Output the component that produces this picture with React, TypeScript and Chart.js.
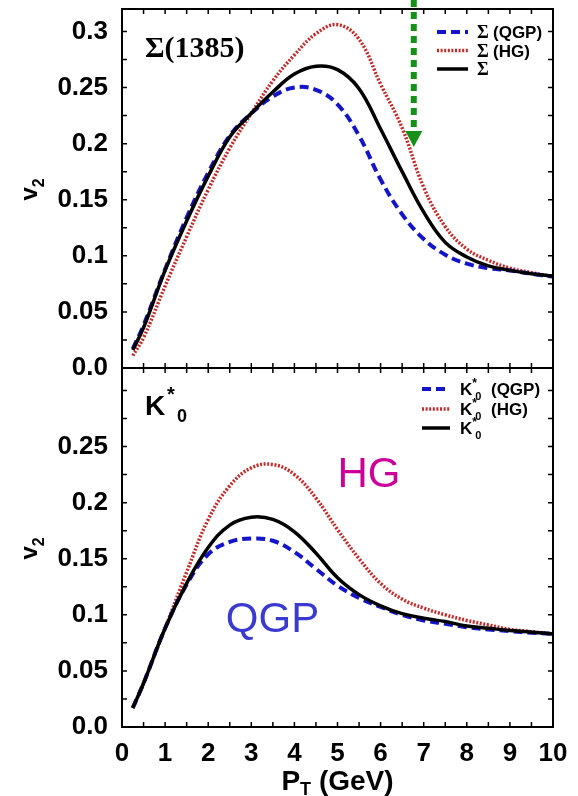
import React, { useEffect, useRef } from "react";
import { Chart, registerables } from "chart.js";

Chart.register(...registerables);

// ---------------- data ----------------
const pT = [0.25, 0.5, 1, 1.5, 2, 2.5, 3, 3.5, 4, 4.5, 5, 5.5, 6, 6.5, 7, 7.5, 8, 8.5, 9, 9.5, 10];

const sigmaQGP = [0.017, 0.038, 0.088, 0.134, 0.174, 0.207, 0.227, 0.242, 0.25, 0.248, 0.235, 0.207, 0.168, 0.137, 0.115, 0.101, 0.093, 0.089, 0.087, 0.084, 0.0815];
const sigmaHG = [0.011, 0.027, 0.073, 0.117, 0.159, 0.196, 0.227, 0.256, 0.279, 0.298, 0.306, 0.293, 0.253, 0.214, 0.161, 0.126, 0.106, 0.096, 0.089, 0.085, 0.0815];
const sigmaAll = [0.016, 0.036, 0.087, 0.131, 0.171, 0.206, 0.227, 0.246, 0.262, 0.269, 0.266, 0.249, 0.213, 0.175, 0.139, 0.112, 0.099, 0.091, 0.087, 0.084, 0.082];

const kQGP = [0.017, 0.039, 0.088, 0.127, 0.154, 0.165, 0.168, 0.166, 0.156, 0.141, 0.126, 0.115, 0.107, 0.1, 0.095, 0.092, 0.089, 0.087, 0.0855, 0.084, 0.083];
const kHG = [0.017, 0.039, 0.088, 0.138, 0.185, 0.215, 0.231, 0.234, 0.225, 0.204, 0.176, 0.15, 0.128, 0.114, 0.106, 0.1, 0.095, 0.091, 0.087, 0.085, 0.083];
const kAll = [0.017, 0.039, 0.088, 0.128, 0.16, 0.18, 0.187, 0.185, 0.174, 0.155, 0.133, 0.118, 0.108, 0.101, 0.097, 0.094, 0.09, 0.088, 0.086, 0.0845, 0.083];

const xTickValues = [0, 1, 2, 3, 4, 5, 6, 7, 8, 9, 10];
const yTicksTop = [0, 0.05, 0.1, 0.15, 0.2, 0.25, 0.3];
const yTicksBottom = [0, 0.05, 0.1, 0.15, 0.2, 0.25];

// annotations (data coordinates)
const arrowX = 6.77;
const arrowTipV2 = 0.197;
const hgLabel = { text: "HG", x: 5.0, y: 0.214 };
const qgpLabel = { text: "QGP", x: 2.41, y: 0.085 };

// ---------------- styles ----------------
const SANS = '"Liberation Sans", Arial, Helvetica, sans-serif';
const SERIF = '"Liberation Serif", "Times New Roman", serif';
const BLUE = "#1414c8";
const RED = "#c42a2a";
const BLACK = "#000000";
const BLUE_DASH = [9, 5];
const RED_DASH = [2, 1.6];

function lineDs(label: string, ys: number[], color: string, dash: number[], width: number) {
  return {
    label,
    data: pT.map((x, i) => ({ x, y: ys[i] })),
    borderColor: color,
    backgroundColor: color,
    borderDash: dash,
    borderWidth: width,
    borderCapStyle: "butt",
    pointRadius: 0,
    tension: 0.4,
    fill: false,
  };
}

const fmtY = (v: number) => (v === 0 ? "0.0" : String(parseFloat(v.toFixed(3))));

function drawFrame(ctx: CanvasRenderingContext2D, a: any, xs: any, ys: any) {
  ctx.save();
  ctx.strokeStyle = "#000";
  ctx.lineWidth = 1.5;
  ctx.beginPath();
  for (let i = 0; i <= 20; i++) {
    const px = xs.getPixelForValue(i * 0.5);
    ctx.moveTo(px, a.top);
    ctx.lineTo(px, a.top + 5);
    ctx.moveTo(px, a.bottom);
    ctx.lineTo(px, a.bottom - 5);
  }
  for (let i = 0; i <= 12; i++) {
    const py = ys.getPixelForValue(i * 0.025);
    ctx.moveTo(a.left, py);
    ctx.lineTo(a.left + 5, py);
    ctx.moveTo(a.right, py);
    ctx.lineTo(a.right - 5, py);
  }
  ctx.stroke();
  ctx.lineWidth = 2;
  ctx.strokeRect(a.left, a.top, a.right - a.left, a.bottom - a.top);
  ctx.restore();
}

function drawYTitle(ctx: CanvasRenderingContext2D, a: any) {
  const cy = (a.top + a.bottom) / 2;
  ctx.save();
  ctx.translate(37, cy);
  ctx.rotate(-Math.PI / 2);
  ctx.fillStyle = "#000";
  ctx.textAlign = "left";
  ctx.textBaseline = "alphabetic";
  ctx.font = `bold 24px ${SANS}`;
  const start = -12;
  ctx.fillText("v", start, 0);
  const w = ctx.measureText("v").width;
  ctx.font = `bold 16px ${SANS}`;
  ctx.fillText("2", start + w, 7);
  ctx.restore();
}

function legendSample(ctx: CanvasRenderingContext2D, x1: number, x2: number, y: number, color: string, dash: number[], width: number) {
  ctx.save();
  ctx.strokeStyle = color;
  ctx.lineWidth = width;
  ctx.setLineDash(dash);
  ctx.lineCap = "butt";
  ctx.beginPath();
  ctx.moveTo(x1, y);
  ctx.lineTo(x2, y);
  ctx.stroke();
  ctx.restore();
}

const topDecor = {
  id: "topDecor",
  afterDraw(chart: any) {
    const { ctx, chartArea: a, scales } = chart;
    const xs = scales.x;
    const ys = scales.y;
    drawFrame(ctx, a, xs, ys);
    drawYTitle(ctx, a);

    ctx.save();
    ctx.fillStyle = "#000";
    ctx.textAlign = "left";
    ctx.textBaseline = "alphabetic";
    ctx.font = `bold 30px ${SERIF}`;
    ctx.fillText("Σ(1385)", 145, 57);

    // legend
    const rows = [
      { y: 32, color: BLUE, dash: BLUE_DASH, w: 4, label: "(QGP)" },
      { y: 50.5, color: RED, dash: RED_DASH, w: 3.5, label: "(HG)" },
      { y: 69, color: BLACK, dash: [], w: 3.5, label: "" },
    ];
    rows.forEach((r) => {
      legendSample(ctx, 437, 468, r.y, r.color, r.dash, r.w);
      ctx.fillStyle = "#000";
      ctx.font = `bold 18px ${SERIF}`;
      ctx.fillText("Σ", 477, r.y + 6);
      if (r.label) {
        ctx.font = `bold 17px ${SANS}`;
        ctx.fillText(r.label, 493, r.y + 6);
      }
    });

    // green arrow
    const ax = xs.getPixelForValue(arrowX);
    const tip = ys.getPixelForValue(arrowTipV2);
    const headH = 16;
    ctx.strokeStyle = "#17901a";
    ctx.fillStyle = "#17901a";
    ctx.lineWidth = 6;
    ctx.setLineDash([7, 5]);
    ctx.beginPath();
    ctx.moveTo(ax, 0);
    ctx.lineTo(ax, tip - headH);
    ctx.stroke();
    ctx.setLineDash([]);
    ctx.beginPath();
    ctx.moveTo(ax - 8.5, tip - headH);
    ctx.lineTo(ax + 8.5, tip - headH);
    ctx.lineTo(ax, tip);
    ctx.closePath();
    ctx.fill();
    ctx.restore();
  },
};

function drawKLabel(ctx: CanvasRenderingContext2D, x: number, base: number, big: number, suffix: string) {
  // K with superscript * and subscript 0
  ctx.font = `bold ${big}px ${SANS}`;
  ctx.fillText("K", x, base);
  const kw = ctx.measureText("K").width;
  ctx.font = `bold ${Math.round(big * 0.7)}px ${SANS}`;
  ctx.fillText("*", x + kw, base - big * 0.45);
  ctx.font = `bold ${Math.round(big * 0.65)}px ${SANS}`;
  ctx.fillText("0", x + kw + big * 0.18, base + big * 0.27);
  if (suffix) {
    ctx.font = `bold ${big}px ${SANS}`;
    ctx.fillText(suffix, x + kw + big * 1.1, base);
  }
}

const bottomDecor = {
  id: "bottomDecor",
  afterDraw(chart: any) {
    const { ctx, chartArea: a, scales } = chart;
    const xs = scales.x;
    const ys = scales.y;
    drawFrame(ctx, a, xs, ys);
    drawYTitle(ctx, a);

    ctx.save();
    ctx.fillStyle = "#000";
    ctx.textAlign = "left";
    ctx.textBaseline = "alphabetic";

    // panel label K*0
    ctx.font = `bold 28px ${SANS}`;
    ctx.fillText("K", 145, 55);
    ctx.font = `bold 20px ${SANS}`;
    ctx.fillText("*", 167, 41);
    ctx.font = `bold 18px ${SANS}`;
    ctx.fillText("0", 177, 62);

    // legend
    const rows = [
      { y: 29, color: BLUE, dash: BLUE_DASH, w: 4, label: "(QGP)" },
      { y: 49, color: RED, dash: RED_DASH, w: 3.5, label: "(HG)" },
      { y: 68, color: BLACK, dash: [], w: 3.5, label: "" },
    ];
    rows.forEach((r) => {
      legendSample(ctx, 422, 450, r.y, r.color, r.dash, r.w);
      ctx.fillStyle = "#000";
      drawKLabel(ctx, 460, r.y + 6, 17, r.label);
    });

    // HG / QGP annotations
    ctx.font = `42px ${SANS}`;
    ctx.fillStyle = "#cc0099";
    ctx.fillText(hgLabel.text, xs.getPixelForValue(hgLabel.x), ys.getPixelForValue(hgLabel.y));
    ctx.fillStyle = "#3a3ad0";
    ctx.fillText(qgpLabel.text, xs.getPixelForValue(qgpLabel.x), ys.getPixelForValue(qgpLabel.y));

    // x title P_T (GeV)
    ctx.fillStyle = "#000";
    const base = 430;
    ctx.font = `bold 28px ${SANS}`;
    const wP = ctx.measureText("P").width;
    const wRest = ctx.measureText(" (GeV)").width;
    ctx.font = `bold 18px ${SANS}`;
    const wT = ctx.measureText("T").width;
    const total = wP + wT + wRest;
    const x0 = (a.left + a.right) / 2 - total / 2;
    ctx.font = `bold 28px ${SANS}`;
    ctx.fillText("P", x0, base);
    ctx.font = `bold 18px ${SANS}`;
    ctx.fillText("T", x0 + wP, base + 5);
    ctx.font = `bold 28px ${SANS}`;
    ctx.fillText(" (GeV)", x0 + wP + wT, base);
    ctx.restore();
  },
};

function yScale(ticksList: number[]) {
  return {
    type: "linear",
    min: 0,
    max: 0.32,
    afterBuildTicks: (s: any) => {
      s.ticks = ticksList.map((v) => ({ value: v }));
    },
    afterFit: (s: any) => {
      s.width = 122;
      s.paddingTop = 0;
      s.paddingBottom = 0;
    },
    ticks: {
      callback: (v: number) => fmtY(v),
      color: "#000",
      padding: 14,
      font: { family: SANS, size: 26, weight: "bold" },
    },
    grid: { display: false, drawTicks: false },
    border: { display: false },
  };
}

function xScale(show: boolean) {
  return {
    type: "linear",
    min: 0,
    max: 10,
    display: show,
    afterBuildTicks: (s: any) => {
      s.ticks = xTickValues.map((v) => ({ value: v }));
    },
    afterFit: (s: any) => {
      if (show) s.height = 69;
      s.paddingLeft = 0;
      s.paddingRight = 0;
    },
    ticks: {
      autoSkip: false,
      maxRotation: 0,
      color: "#000",
      padding: 11,
      font: { family: SANS, size: 26, weight: "bold" },
    },
    grid: { display: false, drawTicks: false },
    border: { display: false },
  };
}

export default function App() {
  const topRef = useRef<HTMLCanvasElement>(null);
  const botRef = useRef<HTMLCanvasElement>(null);

  useEffect(() => {
    const common = {
      responsive: false,
      animation: false,
      plugins: { legend: { display: false }, tooltip: { enabled: false } },
    };
    const c1 = new Chart(topRef.current as HTMLCanvasElement, {
      type: "line",
      data: {
        datasets: [
          lineDs("Σ", sigmaAll, BLACK, [], 3.5),
          lineDs("Σ (QGP)", sigmaQGP, BLUE, BLUE_DASH, 4),
          lineDs("Σ (HG)", sigmaHG, RED, RED_DASH, 3.5),
        ] as any,
      },
      options: {
        ...common,
        layout: { padding: { top: 9, right: 25, bottom: 22, left: 0 } },
        scales: { x: xScale(false), y: yScale(yTicksTop) } as any,
      } as any,
      plugins: [topDecor],
    });
    const c2 = new Chart(botRef.current as HTMLCanvasElement, {
      type: "line",
      data: {
        datasets: [
          lineDs("K*0", kAll, BLACK, [], 3.5),
          lineDs("K*0 (QGP)", kQGP, BLUE, BLUE_DASH, 4),
          lineDs("K*0 (HG)", kHG, RED, RED_DASH, 3.5),
        ] as any,
      },
      options: {
        ...common,
        layout: { padding: { top: 8, right: 25, bottom: 0, left: 0 } },
        scales: { x: xScale(true), y: yScale(yTicksBottom) } as any,
      } as any,
      plugins: [bottomDecor],
    });
    return () => {
      c1.destroy();
      c2.destroy();
    };
  }, []);

  return (
    <div style={{ position: "absolute", left: 0, top: 0, width: 578, height: 796, background: "#fff" }}>
      <canvas ref={topRef} width={578} height={390} style={{ position: "absolute", left: 0, top: 0, width: 578, height: 390 }} />
      <canvas ref={botRef} width={578} height={436} style={{ position: "absolute", left: 0, top: 360, width: 578, height: 436 }} />
    </div>
  );
}
